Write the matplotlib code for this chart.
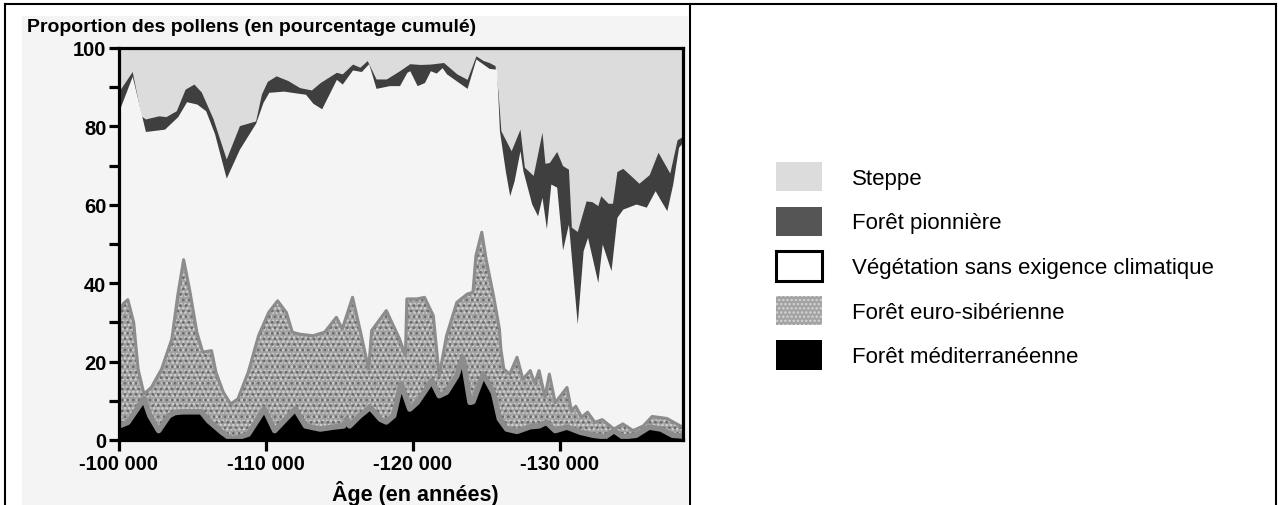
import numpy as np
import matplotlib
matplotlib.use('Agg')
import matplotlib.pyplot as plt
from matplotlib.patches import Patch, Rectangle
from matplotlib.lines import Line2D
from matplotlib.ticker import FuncFormatter, MultipleLocator, FixedLocator

plt.rcParams['font.family'] = ['Liberation Sans', 'DejaVu Sans']
plt.rcParams['font.weight'] = 'bold'
plt.rcParams['hatch.linewidth'] = 1.2

# ages in ka (thousands of years before present), values in cumulative %
# upper edge of "Forêt pionnière" (below it: steppe above)
age_pion_top = [100.0, 100.9, 101.5, 101.8, 102.7, 103.2, 103.9, 104.5, 105.1, 105.6,
                106.4, 107.3, 108.2, 109.3, 109.7, 110.1, 110.7, 111.5, 112.3, 113.1,
                113.7, 114.8, 115.2, 115.9, 116.4, 116.9, 117.5, 118.2, 119.1, 119.8,
                120.5, 121.2, 122.1, 123.0, 123.7, 124.3, 124.8, 125.2, 125.6, 125.8,
                126.0, 126.7, 127.3, 127.6, 128.2, 128.8, 129.0, 129.3, 129.8, 130.2,
                130.6, 130.8, 131.2, 131.8, 132.2, 132.6, 132.8, 133.3, 133.6, 133.9,
                134.3, 134.8, 135.4, 136.1, 136.7, 137.5, 138.0, 138.4]
pion_top = [89.0, 94.0, 82.7, 81.9, 82.7, 82.5, 84.0, 89.5, 90.8, 88.8,
            82.0, 71.7, 80.2, 81.4, 88.3, 91.5, 92.9, 91.7, 89.9, 89.3,
            91.2, 93.8, 93.4, 95.9, 95.1, 96.8, 92.1, 92.1, 94.2, 96.0,
            95.8, 95.9, 96.3, 93.4, 92.0, 98.0, 96.8, 96.3, 95.5, 89.0,
            78.9, 73.8, 79.3, 69.6, 67.5, 78.5, 70.6, 70.8, 73.6, 70.0,
            69.1, 54.3, 53.2, 61.0, 60.8, 59.8, 62.3, 60.4, 60.4, 68.5,
            69.3, 67.6, 65.5, 67.7, 73.4, 68.1, 76.6, 77.5]

# lower edge of "Forêt pionnière" (top of "Végétation sans exigence climatique")
age_pion_bot = [100.0, 100.9, 101.8, 103.1, 104.0, 104.6, 105.3, 105.9, 106.5, 107.3,
                108.2, 109.3, 109.8, 110.2, 111.2, 112.7, 113.2, 113.8, 114.8, 115.2,
                115.9, 116.5, 117.0, 117.5, 118.4, 119.1, 119.6, 119.8, 120.3, 120.8,
                121.2, 121.6, 122.0, 122.3, 123.7, 124.3, 125.2, 125.7, 125.8, 125.9,
                126.3, 126.6, 126.9, 127.3, 127.5, 128.1, 128.5, 128.8, 129.1, 129.4,
                129.8, 130.2, 130.6, 131.2, 131.6, 131.9, 132.6, 132.9, 133.5, 133.9,
                134.3, 135.2, 135.9, 136.5, 136.9, 137.3, 137.7, 138.1, 138.4]
pion_bot = [84.0, 92.8, 78.7, 79.3, 82.5, 86.3, 85.7, 84.0, 78.2, 66.8,
            74.2, 80.8, 86.1, 88.7, 89.0, 88.2, 85.9, 84.5, 92.0, 90.8,
            94.4, 94.0, 96.0, 89.7, 90.4, 90.4, 93.8, 94.2, 90.4, 91.2,
            94.2, 93.6, 95.0, 93.4, 89.7, 97.2, 94.8, 94.6, 87.4, 78.9,
            68.7, 62.3, 66.1, 73.8, 68.7, 60.2, 57.2, 61.9, 53.9, 65.3,
            64.5, 48.5, 55.1, 29.6, 48.3, 51.7, 40.2, 50.0, 43.2, 56.8,
            58.9, 60.2, 59.4, 63.6, 61.0, 58.5, 65.3, 74.7, 76.0]

# top of "Forêt euro-sibérienne"
age_euro = [100.0, 100.3, 100.6, 101.0, 101.3, 101.7, 102.2, 102.9, 103.6, 104.0,
            104.4, 104.8, 105.3, 105.7, 106.3, 106.6, 107.1, 107.6, 108.1, 108.8,
            109.5, 110.2, 110.8, 111.4, 111.8, 112.3, 113.2, 114.0, 114.8, 115.2,
            115.9, 116.4, 117.0, 117.2, 118.2, 119.1, 119.5, 119.6, 120.3, 120.8,
            121.4, 121.8, 122.3, 123.0, 123.7, 124.1, 124.3, 124.7, 125.0, 125.5,
            125.9, 126.0, 126.2, 126.6, 127.1, 127.5, 128.0, 128.3, 128.6, 129.0,
            129.3, 129.7, 130.5, 130.8, 131.1, 131.5, 131.9, 132.4, 132.9, 133.7,
            134.3, 135.0, 135.7, 136.3, 137.3, 138.4]
euro_top = [32.6, 34.8, 35.8, 30.0, 18.1, 11.7, 13.4, 18.1, 25.8, 36.9,
            46.0, 38.5, 27.5, 22.4, 22.8, 17.3, 12.2, 9.2, 10.5, 17.3,
            26.6, 32.6, 35.5, 32.5, 27.5, 27.0, 26.6, 27.5, 31.3, 28.3,
            36.4, 28.3, 18.1, 27.9, 33.0, 25.8, 21.5, 36.0, 36.0, 36.4,
            31.7, 16.4, 26.6, 35.1, 37.2, 37.7, 47.0, 53.0, 46.0, 36.8,
            28.3, 23.2, 18.1, 16.8, 21.1, 15.5, 17.7, 14.5, 17.7, 11.0,
            16.8, 9.5, 13.4, 7.5, 8.6, 5.8, 7.1, 4.5, 5.2, 2.8,
            4.1, 2.4, 3.6, 6.0, 5.5, 3.2]

# top of "Forêt méditerranéenne"
age_medit = [100.0, 100.6, 101.7, 102.1, 102.7, 103.4, 103.8, 104.3, 105.6, 106.1,
             107.0, 107.7, 108.8, 109.9, 110.6, 112.0, 112.7, 113.7, 114.6, 115.3,
             115.5, 115.7, 116.4, 117.1, 117.8, 118.2, 118.7, 119.2, 119.8, 120.3,
             121.3, 121.8, 122.3, 123.0, 123.4, 123.9, 124.1, 124.8, 125.5, 125.9,
             126.4, 127.1, 128.0, 128.6, 129.1, 129.7, 130.5, 131.4, 132.3, 133.1,
             133.7, 134.3, 135.2, 136.1, 136.9, 137.7, 138.4]
medit_top = [3.6, 4.5, 10.5, 6.2, 2.4, 6.2, 7.0, 7.2, 7.2, 4.9,
             2.0, 0.1, 1.5, 7.9, 2.4, 7.9, 3.6, 2.8, 3.3, 3.6,
             5.3, 3.6, 6.2, 8.3, 5.3, 4.6, 6.2, 14.3, 7.9, 9.6,
             15.1, 11.3, 12.2, 16.4, 21.1, 9.6, 9.8, 16.8, 12.0, 5.4,
             2.8, 2.2, 3.4, 3.6, 4.5, 2.4, 3.3, 2.0, 1.2, 0.8,
             2.4, 0.8, 1.2, 3.3, 2.8, 1.2, 1.0]

legend_labels = ['Steppe', 'Forêt pionnière', 'Végétation sans exigence climatique',
                 'Forêt euro-sibérienne', 'Forêt méditerranéenne']
xticks_ka = [100, 110, 120, 130]
yticks = [0, 20, 40, 60, 80, 100]

c_steppe = '#dcdcdc'
c_pion = '#3f3f3f'
c_bg = '#f4f4f4'
c_euro = '#a2a2a2'
c_euro_dots = '#d4d4d4'
c_euro_dark = '#6a6a6a'
c_euro_line = '#8c8c8c'


def yrs(a):
    return -1000 * np.array(a)


W, H = 1279, 506
fig = plt.figure(figsize=(W / 100, H / 100), dpi=100)

# background panel and frame lines
fig.add_artist(Rectangle((22 / W, 0), (688 - 22) / W, 1 - 17 / H,
                         transform=fig.transFigure, facecolor=c_bg, edgecolor='none', zorder=0))
for xs, ys in [([5, W - 3], [5, 5]), ([5, 5], [5, H]), ([690, 690], [5, H]), ([W - 3, W - 3], [5, H])]:
    fig.add_artist(Line2D([x / W for x in xs], [1 - y / H for y in ys],
                          transform=fig.transFigure, color='black', lw=1.5))

ax = fig.add_axes([119 / W, 1 - 441 / H, (683 - 119) / W, (441 - 49) / H])
ax.set_facecolor(c_steppe)

# cumulative layers, painted from top layer down
ax.fill_between(yrs(age_pion_top), 0, pion_top, color=c_pion, lw=0)
ax.fill_between(yrs(age_pion_bot), 0, pion_bot, color=c_bg, lw=0)
ax.fill_between(yrs(age_euro), 0, euro_top, facecolor=c_euro, edgecolor=c_euro_dots,
                hatch='....', lw=0)
ax.fill_between(yrs(age_euro), 0, euro_top, facecolor='none', edgecolor=c_euro_dark,
                hatch='...', lw=0)
ax.plot(yrs(age_euro), euro_top, color=c_euro_line, lw=2.2)
ax.plot(yrs(age_medit), medit_top, color=c_euro_line, lw=4)
ax.fill_between(yrs(age_medit), 0, medit_top, color='black', lw=0)

ax.set_xlim(-100000, -138400)
ax.set_ylim(0, 100)

for s in ax.spines.values():
    s.set_linewidth(2.3)
    s.set_color('black')

ax.xaxis.set_major_locator(FixedLocator(yrs(xticks_ka)))
ax.xaxis.set_major_formatter(FuncFormatter(lambda v, p: '{:,}'.format(int(round(v))).replace(',', ' ')))
ax.set_yticks(yticks)
ax.yaxis.set_minor_locator(MultipleLocator(10))
ax.tick_params(axis='x', direction='out', length=8, width=2.3, labelsize=14.5, pad=2)
ax.tick_params(axis='y', which='both', direction='out', length=7, width=2.3, labelsize=14.5, pad=2)

fig.text(27 / W, 1 - 27 / H, 'Proportion des pollens (en pourcentage cumulé)',
         fontsize=14, fontweight='bold', ha='left', va='center')
fig.text(415 / W, 1 - 494 / H, 'Âge (en années)', fontsize=15.5, fontweight='bold',
         ha='center', va='center')

handles = [Patch(facecolor=c_steppe, edgecolor='none'),
           Patch(facecolor='#555555', edgecolor='none'),
           Patch(facecolor='white', edgecolor='black', lw=2.2),
           Patch(facecolor=c_euro, edgecolor=c_euro_dots, hatch='....', lw=0),
           Patch(facecolor='black', edgecolor='none')]
fig.legend(handles, legend_labels, loc='upper left', bbox_to_anchor=(776 / W, 1 - 163 / H),
           frameon=False, prop={'size': 16, 'weight': 'normal'}, handlelength=2.07,
           handleheight=1.65, labelspacing=0.69, handletextpad=1.35, borderpad=0, borderaxespad=0)

fig.savefig('out.png', dpi=100)
